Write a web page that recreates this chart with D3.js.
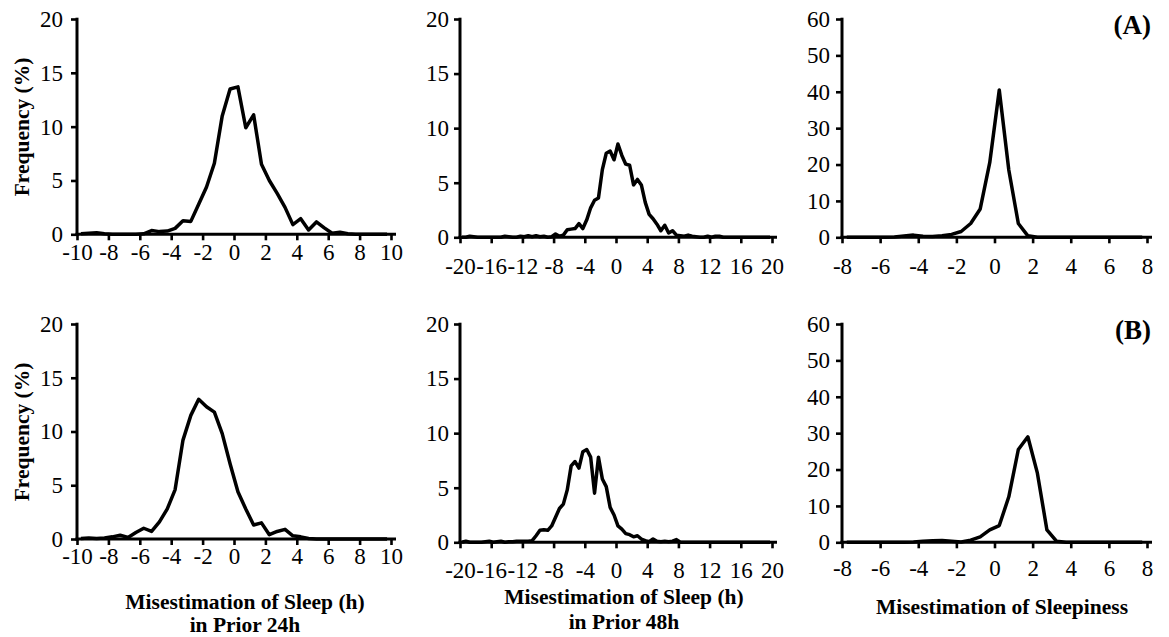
<!DOCTYPE html>
<html>
<head>
<meta charset="utf-8">
<script src="https://cdn.jsdelivr.net/npm/d3@7"></script>
<style>
  html, body { margin: 0; padding: 0; background: #fff; }
  svg { display: block; }
  .tick text { font-family: "Liberation Serif", "Times New Roman", serif; font-size: 23px; fill: #000; }
  .ttl { font-family: "Liberation Serif", "Times New Roman", serif; font-weight: bold; font-size: 21.5px; fill: #000; }
</style>
</head>
<body>
<svg id="chart" width="1169" height="637"></svg>
<script>
// ---- tick labels ----
const xTicks24 = [-10, -8, -6, -4, -2, 0, 2, 4, 6, 8, 10];
const xTicks48 = [-20, -16, -12, -8, -4, 0, 4, 8, 12, 16, 20];
const xTicksSleepiness = [-8, -6, -4, -2, 0, 2, 4, 6, 8];
const yTicksSleep = [0, 5, 10, 15, 20];
const yTicksSleepiness = [0, 10, 20, 30, 40, 50, 60];

// ---- bin centres ----
const bins24 = [-9.75,-9.25,-8.75,-8.25,-7.75,-7.25,-6.75,-6.25,-5.75,-5.25,-4.75,-4.25,-3.75,-3.25,-2.75,-2.25,-1.75,-1.25,-0.75,-0.25,
  0.25,0.75,1.25,1.75,2.25,2.75,3.25,3.75,4.25,4.75,5.25,5.75,6.25,6.75,7.25,7.75,8.25,8.75,9.25,9.75];
const bins48 = [-19.75,-19.25,-18.75,-18.25,-17.75,-17.25,-16.75,-16.25,-15.75,-15.25,-14.75,-14.25,-13.75,-13.25,-12.75,-12.25,
  -11.75,-11.25,-10.75,-10.25,-9.75,-9.25,-8.75,-8.25,-7.75,-7.25,-6.75,-6.25,-5.75,-5.25,-4.75,-4.25,-3.75,-3.25,-2.75,-2.25,
  -1.75,-1.25,-0.75,-0.25,0.25,0.75,1.25,1.75,2.25,2.75,3.25,3.75,4.25,4.75,5.25,5.75,6.25,6.75,7.25,7.75,8.25,8.75,9.25,9.75,
  10.25,10.75,11.25,11.75,12.25,12.75,13.25,13.75,14.25,14.75,15.25,15.75,16.25,16.75,17.25,17.75,18.25,18.75,19.25,19.75];
const binsSleepiness = [-7.75,-7.25,-6.75,-6.25,-5.75,-5.25,-4.75,-4.25,-3.75,-3.25,-2.75,-2.25,-1.75,-1.25,-0.75,-0.25,
  0.25,0.75,1.25,1.75,2.25,2.75,3.25,3.75,4.25,4.75,5.25,5.75,6.25,6.75,7.25,7.75];

// ---- frequencies (%) ----
// (A) row
const freqSleep24A = [0.05,0.1,0.15,0.05,0,0,0,0,0.05,0.35,0.25,0.3,0.55,1.25,1.2,2.8,4.4,6.6,11.0,13.5,
  13.7,9.9,11.1,6.5,5.0,3.8,2.5,0.9,1.45,0.4,1.15,0.6,0.1,0.2,0.05,0,0,0,0,0];
const freqSleep48A = [0,0,0.1,0.05,0,0,0,0,0,0,0,0.1,0.05,0,0,0.1,
  0.05,0.15,0.05,0.15,0.05,0.1,0,0.05,0.3,0.1,0.2,0.7,0.75,0.8,1.25,0.8,1.6,2.7,3.4,3.6,
  6.2,7.7,7.9,7.1,8.55,7.5,6.7,6.6,4.8,5.3,4.8,3.2,2.1,1.7,1.2,0.6,1.1,0.4,0.6,0.2,0.15,0.1,0.2,0.1,
  0.05,0,0,0.1,0,0.1,0.1,0,0,0,0,0,0,0,0,0,0,0,0,0];
const freqSleepinessA = [0,0,0,0,0,0.1,0.35,0.6,0.3,0.2,0.4,0.8,1.6,3.8,7.8,20.5,
  40.5,18.5,3.8,0.4,0,0,0,0,0,0,0,0,0,0,0,0];
// (B) row
const freqSleep24B = [0.05,0.1,0.05,0.1,0.2,0.35,0.15,0.6,1.0,0.7,1.6,2.8,4.6,9.2,11.5,13.0,12.3,11.8,9.8,7.0,
  4.4,2.8,1.3,1.5,0.4,0.7,0.9,0.3,0.2,0.05,0,0,0,0,0,0,0,0,0,0];
const freqSleep48B = [0,0.1,0,0,0,0,0.05,0.1,0,0.05,0.1,0,0.05,0.05,0.1,0.1,
  0.1,0.1,0.15,0.6,1.1,1.15,1.1,1.5,2.3,3.1,3.5,4.8,7.0,7.4,6.8,8.3,8.5,7.8,4.5,7.8,
  5.8,5.1,3.2,2.5,1.5,1.2,0.8,0.7,0.5,0.6,0.3,0.15,0.05,0.3,0.1,0.05,0.1,0.05,0.1,0.25,0,0,0,0,
  0,0,0,0,0,0,0,0,0,0,0,0,0,0,0,0,0,0,0,0];
const freqSleepinessB = [0,0,0,0,0,0,0,0.1,0.3,0.4,0.5,0.3,0.1,0.6,1.5,3.4,
  4.6,12.5,25.5,29,19,3.4,0.3,0,0,0,0,0,0,0,0,0];

const titleSleep24 = ["Misestimation of Sleep (h)", "in Prior 24h"];
const titleSleep48 = ["Misestimation of Sleep (h)", "in Prior 48h"];
const titleSleepiness = ["Misestimation of Sleepiness"];
const yTitle = "Frequency (%)";
const rowTags = ["(A)", "(B)"];

// ---- layout ----
const svg = d3.select("#chart");
const cols = [
  { x0: 77,  x1: 391,  xTicks: xTicks24,         yTicks: yTicksSleep,      bins: bins24,         yPad: 8 },
  { x0: 460, x1: 772,  xTicks: xTicks48,         yTicks: yTicksSleep,      bins: bins48,         yPad: 5 },
  { x0: 842, x1: 1147, xTicks: xTicksSleepiness, yTicks: yTicksSleepiness, bins: binsSleepiness, yPad: 6 }
];
const rows = [
  { top: 19,  bottoms: [234.3, 237.3, 237.3], xPads: [3, 14, 14], data: [freqSleep24A, freqSleep48A, freqSleepinessA] },
  { top: 324, bottoms: [539, 542.3, 542.3],   xPads: [3, 13, 11], data: [freqSleep24B, freqSleep48B, freqSleepinessB] }
];

const fmt = d => String(d);
const line = (x, y) => d3.line().x(d => x(d[0])).y(d => y(d[1]));

rows.forEach((row, ri) => {
  cols.forEach((col, ci) => {
    const yb = row.bottoms[ci];
    const x = d3.scaleLinear().domain([col.xTicks[0], col.xTicks[col.xTicks.length - 1]]).range([col.x0, col.x1]);
    const y = d3.scaleLinear().domain([0, col.yTicks[col.yTicks.length - 1]]).range([yb, row.top]);
    const g = svg.append("g");

    // x axis
    const xa = g.append("g").attr("transform", `translate(0,${yb})`)
      .call(d3.axisBottom(x).tickValues(col.xTicks).tickFormat(fmt).tickSize(6).tickSizeOuter(0).tickPadding(row.xPads[ci]));
    xa.select(".domain").remove();
    xa.selectAll(".tick line").attr("stroke", "#000").attr("stroke-width", 2.6);
    xa.append("line").attr("x1", col.x0 - 1.5).attr("x2", col.x1 + 5).attr("y1", 0).attr("y2", 0)
      .attr("stroke", "#000").attr("stroke-width", 3);

    // y axis
    const ya = g.append("g").attr("transform", `translate(${col.x0},0)`)
      .call(d3.axisLeft(y).tickValues(col.yTicks).tickFormat(fmt).tickSize(6).tickSizeOuter(0).tickPadding(col.yPad));
    ya.select(".domain").remove();
    ya.selectAll(".tick line").attr("stroke", "#000").attr("stroke-width", 2.6);
    ya.append("line").attr("x1", 0).attr("x2", 0).attr("y1", row.top - 1.3).attr("y2", yb + 1.5)
      .attr("stroke", "#000").attr("stroke-width", 3);

    // curve
    const pts = col.bins.map((b, i) => [b, row.data[ci][i]]);
    g.append("path").datum(pts)
      .attr("d", line(x, y))
      .attr("fill", "none").attr("stroke", "#000").attr("stroke-width", 3.5)
      .attr("stroke-linejoin", "round");
  });

  // y title
  const ymid = ri === 0 ? 127 : 432;
  svg.append("text").attr("class", "ttl")
    .attr("transform", `translate(29,${ymid}) rotate(-90)`)
    .attr("text-anchor", "middle").text(yTitle);

  // row tag
  svg.append("text").attr("class", "ttl").style("font-size", "27px")
    .attr("x", 1151).attr("y", ri === 0 ? 34 : 339)
    .attr("text-anchor", "end").text(rowTags[ri]);
});

// x titles
const xTitles = [
  { lines: titleSleep24, cx: 245, y: [609, 632] },
  { lines: titleSleep48, cx: 624, y: [604, 629] },
  { lines: titleSleepiness, cx: 1002, y: [614] }
];
xTitles.forEach(t => {
  t.lines.forEach((s, i) => {
    svg.append("text").attr("class", "ttl").attr("x", t.cx).attr("y", t.y[i])
      .attr("text-anchor", "middle").text(s);
  });
});
</script>
</body>
</html>
